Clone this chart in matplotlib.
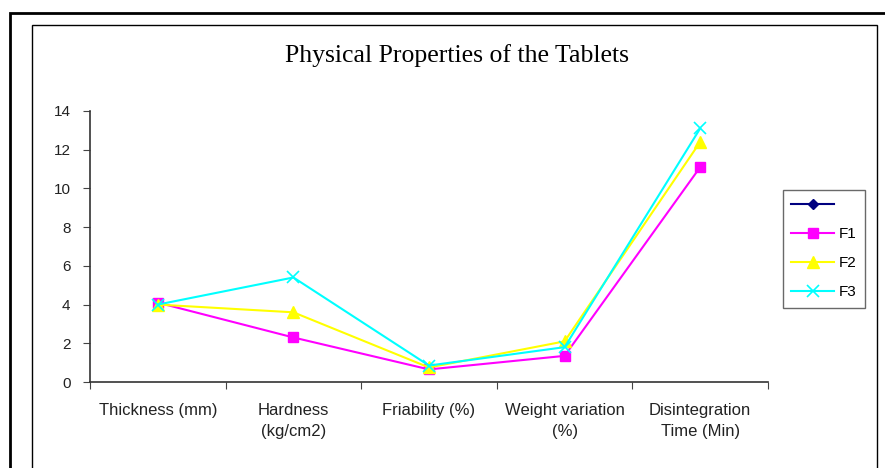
import numpy as np
import matplotlib.pyplot as plt
from matplotlib.patches import Rectangle

# data
categories = ["Thickness (mm)", "Hardness\n(kg/cm2)", "Friability (%)",
              "Weight variation\n(%)", "Disintegration\nTime (Min)"]
blank = [np.nan, np.nan, np.nan, np.nan, np.nan]
f1 = [4.1, 2.3, 0.65, 1.35, 11.1]
f2 = [4.0, 3.6, 0.75, 2.1, 12.4]
f3 = [4.0, 5.4, 0.85, 1.8, 13.1]
yticks = [0, 2, 4, 6, 8, 10, 12, 14]

W, H = 885, 468
fig = plt.figure(figsize=(W / 100, H / 100), dpi=100)

def fx(px):
    return px / W

def fy(py):
    return 1 - py / H

# outer and inner frames
fig.patches.append(Rectangle((fx(10), fy(500)), fx(900), fy(13) - fy(500),
                             transform=fig.transFigure, fill=False,
                             edgecolor="black", linewidth=2.0))
fig.patches.append(Rectangle((fx(31.5), fy(500)), fx(877) - fx(31.5), fy(24.5) - fy(500),
                             transform=fig.transFigure, fill=False,
                             edgecolor="black", linewidth=1.0))

ax = fig.add_axes([fx(90), fy(382), fx(768) - fx(90), fy(111) - fy(382)])
x = np.arange(1, len(categories) + 1)

ax.plot(x, blank, color="#000080", marker="D", markersize=5, linewidth=1.5, label=" ")
ax.plot(x, f1, color="#FF00FF", marker="s", markersize=7.5, linewidth=1.5, label="F1")
ax.plot(x, f2, color="#FFFF00", marker="^", markersize=8, linewidth=1.5, label="F2")
ax.plot(x, f3, color="#00FFFF", marker="x", markersize=9, markeredgewidth=1.2,
        linewidth=1.5, label="F3")

ax.set_xlim(0.5, len(categories) + 0.5)
ax.set_ylim(0, 14)
ax.set_yticks(yticks)
ax.set_xticks(np.arange(0.5, len(categories) + 1, 1))
ax.set_xticklabels([])
ax.set_xticks(x, minor=True)
ax.set_xticklabels(categories, minor=True, fontsize=12, family="Liberation Sans",
                   color="#222222", linespacing=1.5)
ax.tick_params(axis="x", which="minor", length=0, pad=15)
ax.tick_params(axis="x", which="major", length=5, direction="out", color="#444444")
ax.tick_params(axis="y", length=5, direction="out", color="#444444", pad=9)
for lab in ax.get_yticklabels():
    lab.set_fontsize(11)
    lab.set_family("Liberation Sans")
    lab.set_color("#222222")
for s in ["top", "right"]:
    ax.spines[s].set_visible(False)
for s in ["left", "bottom"]:
    ax.spines[s].set_color("#333333")
    ax.spines[s].set_linewidth(1.2)

fig.text(fx(457), fy(56), "Physical Properties of the Tablets", ha="center", va="center",
         fontsize=18.5, family="Liberation Serif")

handles, labels = ax.get_legend_handles_labels()
leg = fig.legend(handles, labels, loc="upper left", bbox_to_anchor=(fx(783), fy(190)),
                 frameon=True, fancybox=False, edgecolor="#444444",
                 prop={"family": "Liberation Sans", "size": 11},
                 handlelength=2.8, labelspacing=0.98, borderpad=0.55, handletextpad=0.3,
                 borderaxespad=0)
leg.get_frame().set_linewidth(1.0)

fig.savefig("out.png", dpi=100)
